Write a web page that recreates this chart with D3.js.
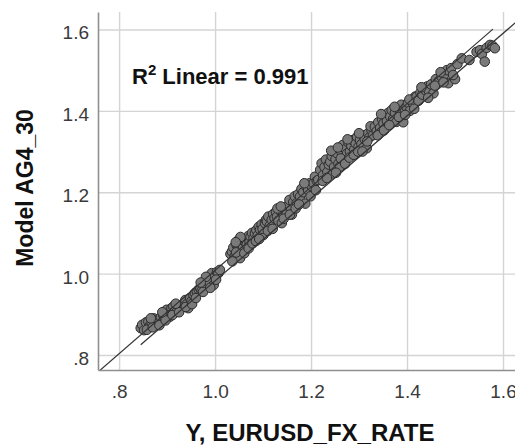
<!DOCTYPE html>
<html>
<head>
<meta charset="utf-8">
<script src="https://cdn.jsdelivr.net/npm/d3@7"></script>
<style>
  html, body { margin: 0; padding: 0; background: #fff; }
  svg { display: block; font-family: Arial, "Liberation Sans", sans-serif; }
</style>
</head>
<body>
<div id="chart"></div>
<script>
const actualRate = [
  0.845,0.848,0.852,0.856,0.861,0.864,0.868,0.872,0.876,0.879,0.882,0.887,0.892,0.895,0.899,
  0.903,0.906,0.909,0.913,0.916,0.920,0.924,0.928,0.931,0.935,0.938,0.941,0.944,0.948,0.951,
  0.858,0.870,0.884,0.897,0.911,0.925,0.939,0.952,0.866,0.890,0.918,
  0.955,0.958,0.962,0.966,0.969,0.972,0.976,0.979,0.983,0.986,0.989,0.993,0.997,1.000,1.004,1.007,1.010,
  0.960,0.975,0.990,0.981,1.002,0.970,
  1.032,1.035,1.038,1.041,1.045,1.048,1.049,1.052,1.055,1.058,1.060,1.063,1.066,1.069,1.072,
  1.074,1.077,1.080,1.083,1.086,1.089,1.091,1.094,1.097,1.101,
  1.036,1.044,1.053,1.061,1.070,1.078,1.085,1.092,1.099,1.043,
  1.104,1.106,1.108,1.111,1.114,1.118,1.121,1.124,1.127,1.129,1.132,1.135,1.139,1.142,1.145,1.149,1.152,1.155,
  1.158,1.160,1.163,1.166,1.170,1.173,1.177,1.180,1.184,1.188,1.190,1.194,1.197,1.201,1.205,1.208,1.212,1.215,
  1.110,1.120,1.130,1.143,1.156,1.168,1.175,1.186,1.199,1.210,1.137,
  1.219,1.222,1.225,1.228,1.231,1.234,1.237,1.240,1.243,1.246,1.248,1.251,1.254,1.257,1.260,1.263,1.266,1.269,
  1.272,1.275,1.278,1.281,1.284,1.287,1.290,1.293,1.296,1.299,1.302,1.305,1.309,1.312,1.316,1.319,1.322,1.326,1.329,
  1.224,1.233,1.242,1.252,1.262,1.271,1.280,1.289,1.298,1.307,1.317,1.256,1.276,1.300,1.324,
  1.333,1.337,1.340,1.344,1.348,1.351,1.354,1.358,1.361,1.365,1.368,1.371,1.375,1.378,1.381,1.385,1.388,1.392,
  1.395,1.399,1.402,1.406,1.410,1.413,1.417,
  1.339,1.352,1.363,1.374,1.383,1.396,1.405,1.346,1.415,
  1.420,1.424,1.428,1.432,1.438,1.442,1.446,1.450,1.455,1.460,1.465,1.472,1.478,1.483,1.486,1.492,1.500,1.505,1.514,
  1.430,1.444,1.458,1.470,1.476,1.496,
  1.530,1.545,1.552,1.556,1.562,1.566,1.573,1.578,1.583
];
const modelValue = [
  0.866,0.874,0.861,0.880,0.882,0.872,0.878,0.890,0.884,0.875,0.886,0.893,0.898,0.888,0.911,
  0.902,0.894,0.915,0.919,0.907,0.906,0.921,0.913,0.919,0.928,0.935,0.925,0.915,0.940,0.932,
  0.862,0.868,0.873,0.885,0.898,0.905,0.918,0.925,0.890,0.905,0.926,
  0.947,0.952,0.956,0.961,0.964,0.958,0.976,0.970,0.985,0.988,0.978,1.001,0.972,0.993,1.004,1.001,1.009,
  0.940,0.955,0.965,0.992,0.985,0.978,
  1.048,1.054,1.064,1.043,1.070,1.060,1.083,1.038,1.074,1.062,1.081,1.083,1.071,1.092,1.078,
  1.091,1.100,1.086,1.099,1.107,1.094,1.115,1.108,1.121,1.095,
  1.030,1.052,1.090,1.050,1.062,1.074,1.080,1.085,1.110,1.077,
  1.124,1.132,1.128,1.140,1.118,1.132,1.146,1.136,1.152,1.140,1.130,1.155,1.124,1.148,1.160,1.148,1.168,1.181,
  1.156,1.145,1.176,1.190,1.173,1.195,1.189,1.208,1.200,1.172,1.214,1.205,1.222,1.215,1.222,1.238,1.228,1.230,
  1.105,1.110,1.160,1.135,1.145,1.160,1.170,1.222,1.190,1.205,1.165,
  1.255,1.271,1.242,1.262,1.280,1.250,1.268,1.275,1.289,1.246,1.262,1.281,1.296,1.270,1.263,1.300,1.316,1.285,
  1.306,1.295,1.322,1.300,1.314,1.328,1.305,1.320,1.336,1.312,1.328,1.318,1.340,1.330,1.308,1.345,1.335,1.352,1.340,
  1.228,1.235,1.302,1.248,1.283,1.270,1.285,1.292,1.300,1.300,1.325,1.310,1.330,1.345,1.362,
  1.361,1.350,1.372,1.358,1.380,1.369,1.390,1.375,1.395,1.386,1.402,1.380,1.395,1.373,1.408,1.398,1.415,1.372,
  1.405,1.410,1.420,1.400,1.427,1.418,1.435,
  1.340,1.352,1.365,1.410,1.385,1.390,1.428,1.392,1.405,
  1.435,1.425,1.445,1.440,1.451,1.460,1.448,1.465,1.443,1.478,1.472,1.484,1.490,1.500,1.468,1.505,1.478,1.515,1.529,
  1.458,1.432,1.462,1.495,1.470,1.488,
  1.525,1.545,1.549,1.540,1.521,1.555,1.562,1.560,1.554
];

// the two straight lines over the cloud, as [start, end] in data units
const refLines = [
  [[0.756, 0.758], [1.579, 1.601]],
  [[0.845, 0.825], [1.640, 1.631]]
];

const tickValues = [0.8, 1.0, 1.2, 1.4, 1.6];
const tickLabels = ['.8', '1.0', '1.2', '1.4', '1.6'];
const r2Text = '0.991';

const width = 515, height = 446;
const plot = { left: 98, right: 515, top: 12, bottom: 370 };

const svg = d3.select('#chart')
    .append('svg')
    .attr('width', width)
    .attr('height', height);

const x = d3.scaleLinear().domain([0.756, 1.625]).range([plot.left, plot.right]);
const y = d3.scaleLinear().domain([0.763, 1.643]).range([plot.bottom, plot.top]);

svg.append('defs')
    .append('clipPath')
    .attr('id', 'plot-clip')
    .append('rect')
    .attr('x', plot.left)
    .attr('y', plot.top)
    .attr('width', plot.right - plot.left)
    .attr('height', plot.bottom - plot.top);

// grid lines
svg.append('g')
    .attr('transform', `translate(0,${plot.bottom})`)
    .call(d3.axisBottom(x).tickValues(tickValues).tickSize(-(plot.bottom - plot.top)).tickFormat(''))
    .call(g => g.select('.domain').remove())
    .call(g => g.selectAll('line').attr('stroke', '#d4d4d4').attr('stroke-width', 1.4));

svg.append('g')
    .attr('transform', `translate(${plot.left},0)`)
    .call(d3.axisLeft(y).tickValues(tickValues).tickSize(-(plot.right - plot.left)).tickFormat(''))
    .call(g => g.select('.domain').remove())
    .call(g => g.selectAll('line').attr('stroke', '#d4d4d4').attr('stroke-width', 1.4));

// points
svg.append('g')
    .attr('clip-path', 'url(#plot-clip)')
    .selectAll('circle')
    .data(actualRate)
    .join('circle')
    .attr('cx', d => x(d))
    .attr('cy', (d, i) => y(modelValue[i]))
    .attr('r', 4.8)
    .attr('fill', '#7a7a7a')
    .attr('stroke', '#2b2b2b')
    .attr('stroke-width', 1);

// lines
svg.append('g')
    .attr('clip-path', 'url(#plot-clip)')
    .selectAll('line')
    .data(refLines)
    .join('line')
    .attr('x1', d => x(d[0][0]))
    .attr('y1', d => y(d[0][1]))
    .attr('x2', d => x(d[1][0]))
    .attr('y2', d => y(d[1][1]))
    .attr('stroke', '#333')
    .attr('stroke-width', 1.2);

// axes with labels
const xAxis = svg.append('g')
    .attr('transform', `translate(0,${plot.bottom})`)
    .call(d3.axisBottom(x).tickValues(tickValues).tickSize(0).tickPadding(15)
        .tickFormat((d, i) => tickLabels[i]));
xAxis.select('.domain').attr('stroke', '#8f8f8f').attr('stroke-width', 1.6);
xAxis.selectAll('text')
    .attr('font-size', 19)
    .attr('font-family', 'Arial, "Liberation Sans", sans-serif')
    .attr('fill', '#3a3a3a');

const yAxis = svg.append('g')
    .attr('transform', `translate(${plot.left},0)`)
    .call(d3.axisLeft(y).tickValues(tickValues).tickSize(0).tickPadding(9)
        .tickFormat((d, i) => tickLabels[i]));
yAxis.select('.domain').attr('stroke', '#8f8f8f').attr('stroke-width', 1.6);
yAxis.selectAll('text')
    .attr('font-size', 19)
    .attr('dy', '0.5em')
    .attr('font-family', 'Arial, "Liberation Sans", sans-serif')
    .attr('fill', '#3a3a3a');

// R2 annotation
const r2 = svg.append('text')
    .attr('x', 132)
    .attr('y', 84)
    .attr('font-size', 22)
    .attr('font-weight', 'bold')
    .attr('fill', '#111');
r2.append('tspan').text('R');
r2.append('tspan').attr('font-size', 15).attr('dy', -9).text('2');
r2.append('tspan').attr('dy', 9).text(' Linear = ' + r2Text);

// axis titles
svg.append('text')
    .attr('x', 310)
    .attr('y', 441)
    .attr('text-anchor', 'middle')
    .attr('font-size', 24)
    .attr('font-weight', 'bold')
    .attr('fill', '#111')
    .text('Y, EURUSD_FX_RATE');

svg.append('text')
    .attr('transform', 'translate(33,188) rotate(-90)')
    .attr('text-anchor', 'middle')
    .attr('font-size', 23)
    .attr('font-weight', 'bold')
    .attr('fill', '#111')
    .text('Model AG4_30');
</script>
</body>
</html>
